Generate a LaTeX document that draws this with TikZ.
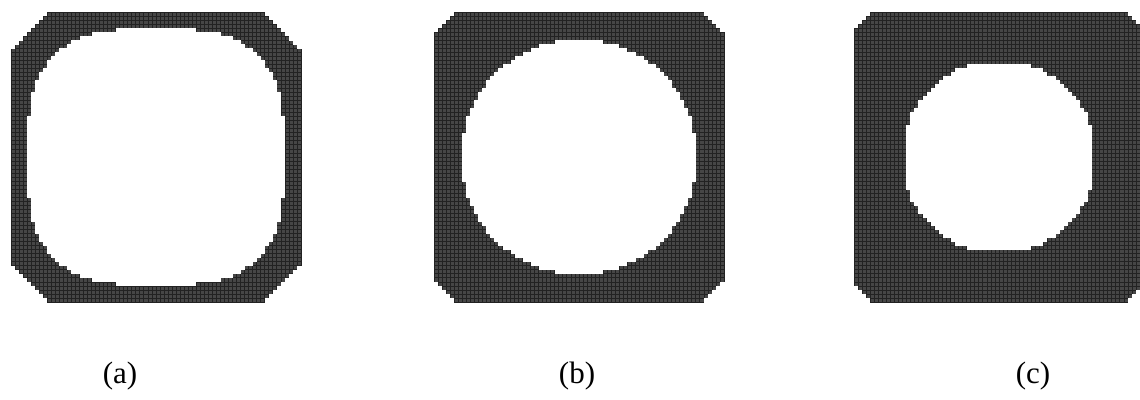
\documentclass[tikz,border=0pt]{standalone}
\usepackage{fontspec}
\setmainfont{Liberation Serif}
\definecolor{cellfill}{RGB}{70,70,70}
\definecolor{cellgrid}{RGB}{34,34,34}
\tikzset{
  caption/.style={font=\fontsize{31}{34}\selectfont, text=black, inner sep=0pt},
  gridline/.style={draw=cellgrid, line width=1pt},
}
% #1 left x, #2 chamfer cells, #3 exponent, #4 radius (cells), #5 half size (cells)
\newcommand\drawpanel[5]{%
  \pgfmathsetmacro\pcx{#1+36*4.03}
  \fill[cellfill] (#1,12) rectangle ++(290.16,290.16);
  \foreach \q in {0,...,72}{
    \draw[gridline] ({#1+\q*4.03},12) -- ++(0,290.16);
    \draw[gridline] (#1,{12+\q*4.03}) -- ++(290.16,0);
  }
  \foreach \k in {1,...,36}{
    \pgfmathsetmacro\vv{\k-0.5}
    \pgfmathtruncatemacro\aa{max(0,#2-(36-\k))}
    \pgfmathsetmacro\ww{#4*(max(0.0001,1-(min(\vv/#4,1))^#3))^(1/#3)}
    \pgfmathtruncatemacro\nn{\k<=#5 ? min(#5,floor(\ww+0.5)) : 0}
    \pgfmathsetmacro\ytop{12+(36-\k)*4.03}
    \pgfmathsetmacro\ybot{12+(35+\k)*4.03}
    \ifnum\nn>0
      \fill[white] ({\pcx-\nn*4.03},{\ytop-0.3}) rectangle ({\pcx+\nn*4.03},{\ytop+4.33});
      \fill[white] ({\pcx-\nn*4.03},{\ybot-0.3}) rectangle ({\pcx+\nn*4.03},{\ybot+4.33});
    \fi
    \ifnum\aa>0
      \fill[white] ({#1-1.5},{\ytop-1.5}) rectangle ({#1+\aa*4.03},{\ytop+4.33});
      \fill[white] ({#1+(72-\aa)*4.03},{\ytop-1.5}) rectangle ({#1+291.7},{\ytop+4.33});
      \fill[white] ({#1-1.5},{\ybot-0.3}) rectangle ({#1+\aa*4.03},{\ybot+5.5});
      \fill[white] ({#1+(72-\aa)*4.03},{\ybot-0.3}) rectangle ({#1+291.7},{\ybot+5.5});
    \fi
  }
}
\begin{document}
\begin{tikzpicture}[x=1pt,y=-1pt]
  \useasboundingbox (0,0) rectangle (1140,399);
  \fill[white] (0,0) rectangle (1140,399);
  \drawpanel{11}{9}{3}{31.8}{32}
  \drawpanel{434}{5}{2}{29.2}{29}
  \drawpanel{854}{4}{2}{24}{23}
  \node[caption] (la) at (120,376) {(a)};
  \node[caption] (lb) at (577,376) {(b)};
  \node[caption] (lc) at (1033,376) {(c)};
\end{tikzpicture}
\end{document}
